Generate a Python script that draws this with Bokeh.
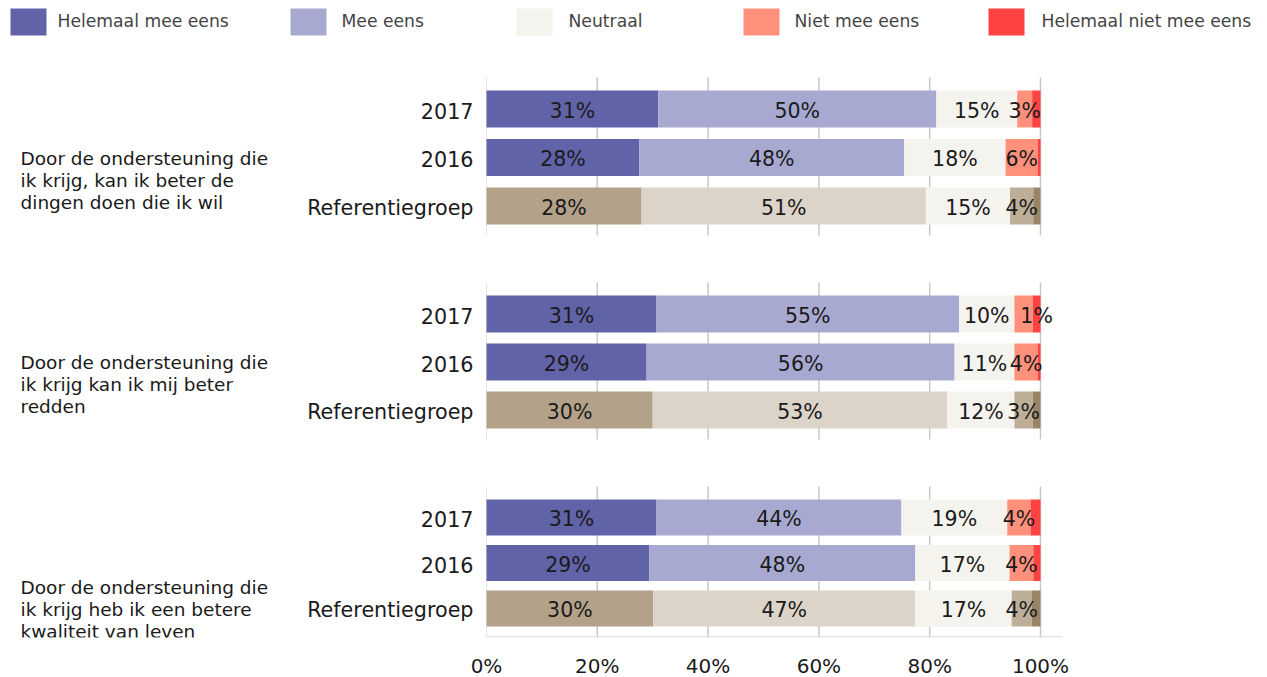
from bokeh.plotting import figure
from bokeh.models import ColumnDataSource, Range1d, FixedTicker, PrintfTickFormatter
from bokeh.core.properties import value
from bokeh.embed import file_html
from bokeh.resources import INLINE

# ---------------- data ----------------
questions = [
    "Door de ondersteuning die\nik krijg, kan ik beter de\ndingen doen die ik wil",
    "Door de ondersteuning die\nik krijg kan ik mij beter\nredden",
    "Door de ondersteuning die\nik krijg heb ik een betere\nkwaliteit van leven",
]
rows = ["2017", "2016", "Referentiegroep"]
categories = ["Helemaal mee eens", "Mee eens", "Neutraal", "Niet mee eens", "Helemaal niet mee eens"]

# one value per bar: q1(2017, 2016, Ref), q2(...), q3(...)
helemaal_mee_eens = [31.0, 27.6, 28.0, 30.7, 28.9, 30.0, 30.7, 29.4, 30.1]
mee_eens = [50.2, 47.8, 51.3, 54.6, 55.6, 53.2, 44.2, 48.0, 47.3]
neutraal = [14.6, 18.3, 15.2, 10.0, 10.8, 12.1, 19.1, 17.0, 17.4]
niet_mee_eens = [2.7, 5.8, 4.2, 3.3, 4.2, 3.3, 4.2, 4.3, 3.6]
helemaal_niet_mee_eens = [1.5, 0.5, 1.3, 1.4, 0.5, 1.4, 1.8, 1.3, 1.6]
series = [helemaal_mee_eens, mee_eens, neutraal, niet_mee_eens, helemaal_niet_mee_eens]

# which value labels are printed (per series, per bar)
label_shown = [
    [1, 1, 1, 1, 1, 1, 1, 1, 1],
    [1, 1, 1, 1, 1, 1, 1, 1, 1],
    [1, 1, 1, 1, 1, 1, 1, 1, 1],
    [1, 1, 1, 0, 1, 1, 1, 1, 1],
    [0, 0, 0, 1, 0, 0, 0, 0, 0],
]
x_ticks = [0, 20, 40, 60, 80, 100]

# ---------------- style / layout ----------------
colors_main = ["#6163A8", "#A7A9D0", "#F4F3EE", "#FF917C", "#FF4242"]
colors_ref = ["#B3A18A", "#DCD3C9", "#F4F3EE", "#BDAE98", "#9A8466"]
FONT = "DejaVu Sans"

W = 1267
FRAME_H = 637
X0_PX, X100_PX = 486, 1040
PX_PER_PCT = (X100_PX - X0_PX) / 100.0
GROUP_TOP = [90, 295, 499]
ROW_PITCH = [48.5, 48, 45.5]
BAR_H = [37, 37, 36]
QUESTION_Y = [180, 384, 609]
LEGEND_X = [10, 290, 516, 743, 988]
LEGEND_TEXT_X = [57, 341, 568, 794, 1041]


def px_to_x(px):
    return (px - X0_PX) / PX_PER_PCT


p = figure(frame_width=W, frame_height=FRAME_H, output_backend="svg",
           toolbar_location=None, tools="",
           x_range=Range1d(px_to_x(0), px_to_x(W)), y_range=Range1d(FRAME_H, 0),
           min_border_left=0, min_border_right=0, min_border_top=0,
           min_border_bottom=0, y_axis_location=None)
p.outline_line_color = None
p.xgrid.visible = False
p.ygrid.visible = False
p.background_fill_color = "white"

# bar geometry
bar_y, bar_h, is_ref = [], [], []
for g in range(len(questions)):
    for r in range(len(rows)):
        bar_y.append(GROUP_TOP[g] + r * ROW_PITCH[g] + BAR_H[g] / 2.0)
        bar_h.append(BAR_H[g])
        is_ref.append(rows[r] == "Referentiegroep")

# grid lines per group
for g in range(len(questions)):
    top = GROUP_TOP[g] - 13
    bottom = GROUP_TOP[g] + 2 * ROW_PITCH[g] + BAR_H[g] + 11
    p.segment(x0=x_ticks[1:], x1=x_ticks[1:], y0=[top] * 5, y1=[bottom] * 5,
              line_color="#c8c8c8", line_width=1.5)
    p.segment(x0=[0], x1=[0], y0=[top], y1=[bottom], line_color="#e6e6e6", line_width=1)

# bottom axis line
p.segment(x0=[0], x1=[px_to_x(1062)], y0=[FRAME_H - 0.5], y1=[FRAME_H - 0.5],
          line_color="#e0e0e0", line_width=1.5)

# stacked bars
left = [0.0] * len(bar_y)
lab_x, lab_y, lab_t = [], [], []
for k, vals in enumerate(series):
    right = [l + v for l, v in zip(left, vals)]
    cols = [colors_ref[k] if ref else colors_main[k] for ref in is_ref]
    src = ColumnDataSource(dict(y=bar_y, h=bar_h, left=left, right=right, color=cols))
    p.hbar(y="y", height="h", left="left", right="right", fill_color="color",
           line_color=None, source=src)
    for i, v in enumerate(vals):
        if label_shown[k][i]:
            lab_x.append((left[i] + right[i]) / 2.0)
            lab_y.append(bar_y[i])
            lab_t.append(f"{int(v + 0.5):d}%")
    left = right

p.text(x=lab_x, y=lab_y, text=lab_t, text_align="center", text_baseline="middle",
       text_font=value(FONT), text_font_size="20.5px", text_color="#1a1a1a", y_offset=1.5)

# row labels
p.text(x=[px_to_x(473)] * len(bar_y), y=bar_y, text=rows * len(questions),
       text_align="right", text_baseline="middle", text_font=value(FONT),
       text_font_size="20.7px", text_color="#1a1a1a", y_offset=1.5)

# question labels
p.text(x=[px_to_x(20)] * len(questions), y=QUESTION_Y, text=questions,
       text_align="left", text_baseline="middle", text_font=value(FONT),
       text_font_size="18.5px", text_color="#1a1a1a", text_line_height=1.03)

# legend
p.rect(x=[px_to_x(lx + 18) for lx in LEGEND_X], y=[21.5] * 5, width=36, height=27,
       width_units="screen", height_units="screen", fill_color=colors_main, line_color=None)
p.text(x=[px_to_x(tx) for tx in LEGEND_TEXT_X], y=[20] * 5, text=categories,
       text_align="left", text_baseline="middle", text_font=value(FONT),
       text_font_size="17.2px", text_color="#444444")

# x axis
ax = p.xaxis[0]
ax.ticker = FixedTicker(ticks=x_ticks)
ax.formatter = PrintfTickFormatter(format="%d%%")
ax.axis_line_color = None
ax.major_tick_line_color = None
ax.minor_tick_line_color = None
ax.major_tick_out = 0
ax.major_tick_in = 0
ax.minor_tick_out = 0
ax.major_label_text_font = FONT
ax.major_label_text_font_size = "20px"
ax.major_label_text_color = "#1a1a1a"
ax.major_label_standoff = 16

open("out.html", "w").write(file_html(p, INLINE))
